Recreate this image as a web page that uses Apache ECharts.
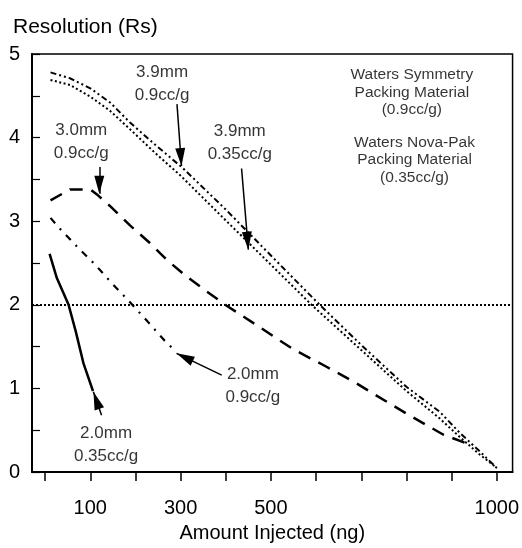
<!DOCTYPE html>
<html>
<head>
<meta charset="utf-8">
<script src="https://cdn.jsdelivr.net/npm/echarts@6/dist/echarts.min.js"></script>
<style>
html,body{margin:0;padding:0;background:#fff;}
#chart{width:522px;height:548px;}
</style>
</head>
<body>
<div id="chart"></div>
<script>
// ---- data ----
const xTickValues = [0,100,200,300,400,500,600,700,800,900,1000];
const xLabelValues = [100,300,500,1000];

// 3.9mm, 0.9cc/g (Waters Symmetry) - dash-dot-dot
const sym39 = [[12,4.78],[55,4.71],[100,4.59],[144,4.42],[188,4.18],[247,3.90],[306,3.63],[400,3.14],[500,2.59],[608,2.0],[700,1.52],[800,1.02],[874,0.72],[918,0.47],[960,0.26],[1000,0.05]];
// 3.9mm, 0.35cc/g (Waters Nova-Pak) - dotted
const nova39 = [[12,4.69],[55,4.63],[100,4.49],[144,4.32],[188,4.10],[243,3.82],[299,3.55],[400,3.01],[500,2.48],[590,2.0],[700,1.46],[800,0.97],[874,0.64],[918,0.42],[960,0.22],[1000,0.05]];
// 3.0mm, 0.9cc/g - dashed
const sym30 = [[12,3.25],[55,3.38],[100,3.38],[117,3.31],[144,3.18],[188,2.95],[232,2.74],[269,2.54],[313,2.34],[358,2.16],[402,1.99],[476,1.73],[549,1.47],[623,1.26],[690,1.06],[726,0.94],[800,0.70],[881,0.45],[945,0.32]];
// 2.0mm, 0.9cc/g - dash-dot
const sym20 = [[12,3.04],[33,2.91],[70,2.70],[111,2.48],[144,2.28],[188,2.03],[229,1.79],[265,1.57],[290,1.44]];
// 2.0mm, 0.35cc/g - solid
const nova20 = [[10,2.61],[26,2.32],[52,2.0],[68,1.68],[85,1.30],[106,0.97]];

const refLevel = 2;

// annotation arrows: [tailX, tailY, tipX, tipY]
const arrows = [
  [292,4.40,302,3.66],
  [435,3.63,450,2.66],
  [120,3.65,120,3.33],
  [391,1.16,291,1.42],
  [125,0.68,107,0.96]
];
// annotation labels: [x, y, text]
const curveLabels = [
  [259,4.64,'3.9mm\n0.9cc/g'],
  [431,3.94,'3.9mm\n0.35cc/g'],
  [80,3.95,'3.0mm\n0.9cc/g'],
  [460,1.03,'2.0mm\n0.9cc/g'],
  [135,0.33,'2.0mm\n0.35cc/g']
];
const materialLabels = [
  [812,4.54,'Waters Symmetry\nPacking Material\n(0.9cc/g)'],
  [818,3.73,'Waters Nova-Pak\nPacking Material\n(0.35cc/g)']
];

// ---- chart ----
const FONT = 'Liberation Sans, Arial, Helvetica, sans-serif';
const chart = echarts.init(document.getElementById('chart'), null, {renderer:'canvas'});

function lineSeries(name, data, type, width){
  return {
    name, type:'line', data, symbol:'none', smooth:false,
    lineStyle:{color:'#000', width, type},
    silent:true, animation:false, z:3
  };
}

const option = {
  animation:false,
  backgroundColor:'#fff',
  title:{
    text:'Resolution (Rs)', left:8, top:12,
    textStyle:{fontFamily:FONT, fontSize:21, fontWeight:'normal', color:'#000'}
  },
  grid:{left:32, right:9, top:54, bottom:72, show:true, borderColor:'#000', borderWidth:1.5, backgroundColor:'transparent'},
  xAxis:{
    type:'value', min:-29, max:1035,
    name:'Amount Injected (ng)', nameLocation:'middle', nameGap:48,
    nameTextStyle:{fontFamily:FONT, fontSize:20, color:'#000'},
    axisLine:{show:true, onZero:false, lineStyle:{color:'#000', width:2}},
    axisTick:{show:true, inside:false, length:9, customValues:xTickValues, lineStyle:{color:'#000', width:1.5}},
    axisLabel:{show:true, customValues:xLabelValues, margin:26, fontFamily:FONT, fontSize:20, color:'#000', formatter:v=>String(v)},
    splitLine:{show:false}
  },
  yAxis:{
    type:'value', min:0, max:5, interval:1,
    axisLine:{show:true, onZero:false, lineStyle:{color:'#000', width:2}},
    axisTick:{show:true, inside:true, length:8, lineStyle:{color:'#000', width:1.2}},
    minorTick:{show:true, splitNumber:2, length:8, lineStyle:{color:'#000', width:1.2}},
    axisLabel:{margin:12, fontFamily:FONT, fontSize:20, color:'#000'},
    splitLine:{show:false}
  },
  series:[
    lineSeries('3.9mm 0.9cc/g', sym39, [6,3,2,3,2,3], 2),
    lineSeries('3.9mm 0.35cc/g', nova39, [2,2.5], 2),
    lineSeries('3.0mm 0.9cc/g', sym30, [13,9], 2.5),
    lineSeries('2.0mm 0.9cc/g', sym20, [7,7,2,7], 2.2),
    lineSeries('2.0mm 0.35cc/g', nova20, 'solid', 2.5),
    {
      name:'ref', type:'line', data:[], silent:true,
      markLine:{
        silent:true, symbol:['none','none'], label:{show:false},
        lineStyle:{color:'#000', width:2, type:[2,2]},
        data:[{yAxis:refLevel}]
      }
    },
    {
      name:'arrows', type:'line', data:[], silent:true,
      markLine:{
        silent:true, symbol:['none','triangle'], symbolSize:[10,18], symbolOffset:[[0,0],[0,9]],
        label:{show:false},
        lineStyle:{color:'#000', width:1.5, type:'solid'},
        itemStyle:{color:'#000'},
        data: arrows.map(a => [{coord:[a[0],a[1]]},{coord:[a[2],a[3]]}])
      }
    },
    {
      name:'curveLabels', type:'scatter', data:curveLabels, symbolSize:1, silent:true,
      itemStyle:{color:'rgba(0,0,0,0)'},
      label:{show:true, position:'inside', formatter:p=>p.data[2], fontFamily:FONT, fontSize:17, lineHeight:23, color:'#000', align:'center'}
    },
    {
      name:'materialLabels', type:'scatter', data:materialLabels, symbolSize:1, silent:true,
      itemStyle:{color:'rgba(0,0,0,0)'},
      label:{show:true, position:'inside', formatter:p=>p.data[2], fontFamily:FONT, fontSize:15.5, lineHeight:17.5, color:'#000', align:'center'}
    }
  ]
};
chart.setOption(option);
</script>
</body>
</html>
